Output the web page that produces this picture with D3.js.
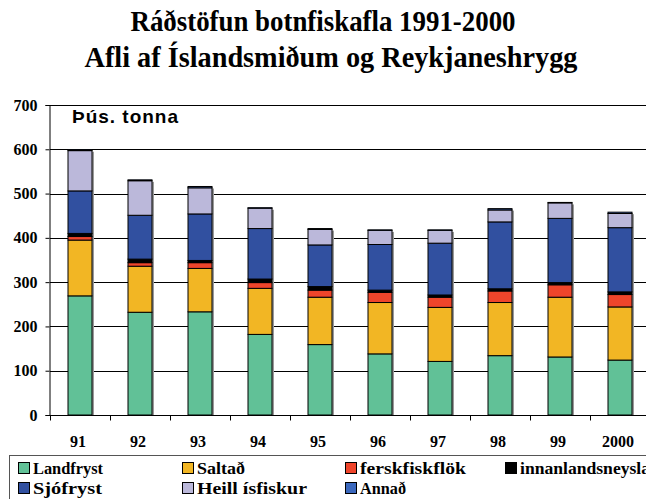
<!DOCTYPE html>
<html>
<head>
<meta charset="utf-8">
<script src="https://cdn.jsdelivr.net/npm/d3@7"></script>
<style>
  html, body { margin: 0; padding: 0; background: #fff; }
  svg { display: block; }
  text { font-family: "Liberation Serif", "Times New Roman", serif; font-weight: bold; fill: #000; }
</style>
</head>
<body>
<svg id="chart" width="646" height="499"></svg>
<script>
// Years (ticks along the x axis)
const years = ["91", "92", "93", "94", "95", "96", "97", "98", "99", "2000"];

// Thousand tonnes per use, stacked bottom to top
const landfryst       = [269, 232, 233, 182, 159, 138, 121, 134, 131, 124];
const saltad          = [126, 104,  98, 104, 107, 116, 122, 120, 135, 120];
const ferskfiskflok   = [  8,   8,  13,  13,  16,  23,  23,  26,  28,  28];
const innanlands      = [  7,   8,   5,   8,   8,   5,   5,   5,   5,   6];
const sjofryst        = [ 96,  99, 105, 114,  94, 103, 117, 151, 145, 145];
const heillIsfiskur   = [ 91,  78,  59,  46,  35,  32,  29,  27,  35,  32];
const annad           = [  2,   2,   3,   1,   2,   1,   1,   3,   1,   3];

const yTicks = [0, 100, 200, 300, 400, 500, 600, 700];

const series = [
  { key: "Landfryst",        values: landfryst,     color: "#61c197" },
  { key: "Saltað",           values: saltad,        color: "#f2b624" },
  { key: "ferskfiskflök",    values: ferskfiskflok, color: "#ef452b" },
  { key: "innanlandsneysla", values: innanlands,    color: "#000000" },
  { key: "Sjófryst",         values: sjofryst,      color: "#3150a0" },
  { key: "Heill ísfiskur",   values: heillIsfiskur, color: "#bbb8da" },
  { key: "Annað",            values: annad,         color: "#3b68bd" }
];

const rows = years.map((y, i) => {
  const r = { year: y };
  series.forEach(s => { r[s.key] = s.values[i]; });
  return r;
});
const stacked = d3.stack().keys(series.map(s => s.key))(rows);

const svg = d3.select("#chart");

const x = d3.scaleBand().domain(years).range([50, 650]).padding(0);
const y = d3.scaleLinear().domain([0, 700]).range([415, 105]);
const barW = 24;

// Title (two lines, narrow bold serif)
const title = svg.append("g");
title.append("text").attr("x", 323).attr("y", 31).attr("text-anchor", "middle")
  .style("font-size", "30px")
  .attr("textLength", 385).attr("lengthAdjust", "spacingAndGlyphs")
  .text("Ráðstöfun botnfiskafla 1991-2000");
title.append("text").attr("x", 331).attr("y", 67).attr("text-anchor", "middle")
  .style("font-size", "30px")
  .attr("textLength", 493).attr("lengthAdjust", "spacingAndGlyphs")
  .text("Afli af Íslandsmiðum og Reykjaneshrygg");

// Horizontal gridlines
svg.append("g").selectAll("line").data(yTicks.filter(d => d > 0)).join("line")
  .attr("x1", 50).attr("x2", 646)
  .attr("y1", d => Math.round(y(d)) + 0.5).attr("y2", d => Math.round(y(d)) + 0.5)
  .attr("stroke", "#000").attr("stroke-width", 1);

// Y axis
const yAxis = svg.append("g").attr("transform", "translate(49.5,0)")
  .call(d3.axisLeft(y).tickValues(yTicks).tickSize(4).tickPadding(8).tickFormat(d3.format("d")));
yAxis.select(".domain").attr("stroke", "#000");
yAxis.selectAll(".tick line").attr("stroke", "#000");
yAxis.selectAll("text")
  .style("font-family", "'Liberation Serif', serif").style("font-weight", "bold")
  .style("font-size", "16px").attr("fill", "#000");

// Stacked bars with a soft grey shadow on the right
const barG = svg.append("g");
barG.selectAll("rect.shadow").data(rows).join("rect").attr("class", "shadow")
  .attr("x", d => x(d.year) + x.bandwidth() / 2 - barW / 2 + 2)
  .attr("y", (d, i) => y(stacked[stacked.length - 1][i][1]) + 2)
  .attr("width", barW)
  .attr("height", (d, i) => y(0) - y(stacked[stacked.length - 1][i][1]) - 2)
  .attr("fill", "#9a9a9a");

stacked.forEach((layer, li) => {
  barG.append("g").selectAll("rect").data(layer).join("rect")
    .attr("x", d => x(d.data.year) + x.bandwidth() / 2 - barW / 2)
    .attr("y", d => y(d[1]))
    .attr("width", barW)
    .attr("height", d => y(d[0]) - y(d[1]))
    .attr("fill", series[li].color)
    .attr("stroke", "#000").attr("stroke-width", 1);
});

// X axis
const xAxis = svg.append("g").attr("transform", "translate(0,415.5)");
xAxis.append("line").attr("x1", 49).attr("x2", 646).attr("stroke", "#000");
xAxis.selectAll("line.tk").data(years).join("line").attr("class", "tk")
  .attr("x1", d => Math.round(x(d)) + 0.5).attr("x2", d => Math.round(x(d)) + 0.5)
  .attr("y1", 0).attr("y2", 5).attr("stroke", "#000");
xAxis.selectAll("text").data(years).join("text")
  .attr("x", d => x(d) + x.bandwidth() / 2 - 2)
  .attr("y", 31).attr("text-anchor", "middle")
  .style("font-size", "16px")
  .text(d => d);

// Unit label
svg.append("text").attr("x", 72).attr("y", 123)
  .style("font-family", "'Liberation Sans', Arial, sans-serif")
  .style("font-size", "19px")
  .attr("textLength", 106).attr("lengthAdjust", "spacing")
  .text("Þús. tonna");

// Legend
const legend = svg.append("g");
legend.append("rect").attr("x", 9.5).attr("y", 455.5).attr("width", 660).attr("height", 60)
  .attr("fill", "#fff").attr("stroke", "#555").attr("stroke-width", 1);
const legendPos = [
  [18, 468], [182, 468], [345, 468], [505, 468],
  [18, 488], [182, 488], [345, 488]
];
const legendLen = [70, 48, 106, 130, 69, 110, 46];
series.forEach((s, i) => {
  const [lx, ly] = legendPos[i];
  const g = legend.append("g").attr("transform", `translate(${lx},${ly})`);
  g.append("rect").attr("x", 0.5).attr("y", -5.5).attr("width", 11).attr("height", 11)
    .attr("fill", s.color).attr("stroke", "#000").attr("stroke-width", 1);
  g.append("text").attr("x", 15).attr("y", 6)
    .style("font-size", "16px")
    .attr("textLength", legendLen[i]).attr("lengthAdjust", "spacingAndGlyphs")
    .text(s.key);
});
</script>
</body>
</html>
